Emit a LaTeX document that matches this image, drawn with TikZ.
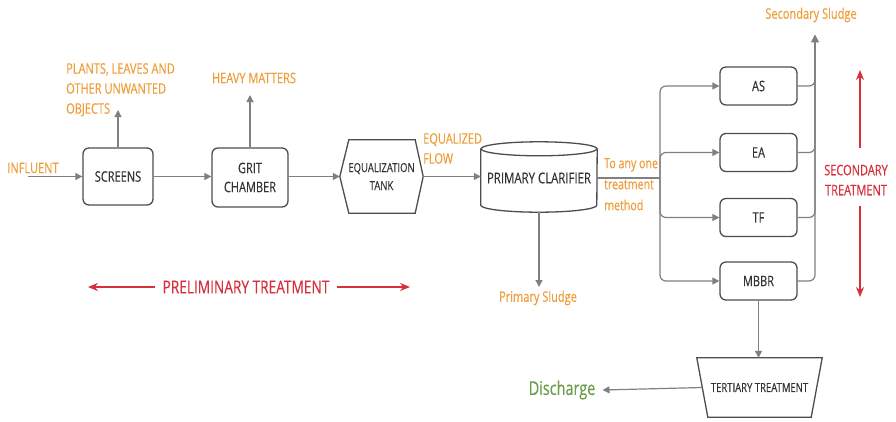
\documentclass[tikz,border=0pt]{standalone}
\usepackage{fontspec}
\setmainfont{Open Sans}[FakeStretch=0.76,FakeBold=0.25]
\usetikzlibrary{arrows.meta,calc}
\definecolor{lbl}{HTML}{EE9E3A}
\definecolor{warn}{HTML}{D6303C}
\definecolor{outgreen}{HTML}{6B9E4B}
\definecolor{pipegray}{HTML}{808080}
\definecolor{boxgray}{HTML}{4D4D4D}
\definecolor{txt}{HTML}{333333}
\begin{document}
\begin{tikzpicture}[x=1pt,y=-1pt,
  box/.style={draw=boxgray,line width=1.3pt,rounded corners=6pt,align=center,text=txt,
    font=\fontsize{14.5}{19}\selectfont,inner sep=0pt},
  shapebox/.style={inner sep=0pt,align=center,text=txt},
  boxline/.style={draw=boxgray,line width=1.3pt},
  pipe/.style={draw=pipegray,line width=1.2pt},
  flow/.style={pipe,-{Triangle[length=7pt,width=7pt]}},
  note/.style={text=lbl,font=\fontsize{14.5}{20}\selectfont,align=left,inner sep=0pt},
  redarrow/.style={draw=warn,line width=1.4pt,-{Stealth[length=10pt,width=8pt]}},
]
\useasboundingbox[fill=white] (0,0) rectangle (896,421);

% ---- preliminary treatment line ----
\node[box,minimum width=70pt,minimum height=57pt] (screens) at (118,176.5) {SCREENS};
\node[box,minimum width=76pt,minimum height=59pt] (grit) at (250,177.5) {GRIT\\CHAMBER};
\node[shapebox,minimum width=83pt,minimum height=73pt,font=\fontsize{12.5}{18}\selectfont] (eq) at (381.5,176.5) {EQUALIZATION\\TANK};
\draw[boxline] ($(eq.north west)+(9,0)$) -- ($(eq.north east)+(-8,0)$) -- (eq.east)
  -- ($(eq.south east)+(-8,0)$) -- ($(eq.south west)+(9,0)$) -- (eq.west) -- cycle;

% primary clarifier drawn as a cylinder
\node[shapebox,minimum width=116pt,minimum height=68pt,font=\fontsize{15}{16}\selectfont] (clar) at (539,178) {\raisebox{-3pt}{PRIMARY CLARIFIER}};
\draw[boxline] ($(clar.north)+(0,5)$) ellipse [x radius=58, y radius=7];
\draw[boxline] ($(clar.north west)+(0,5)$) -- ($(clar.south west)+(0,-7)$)
  arc[start angle=180,end angle=0,x radius=58,y radius=7] -- ($(clar.north east)+(0,5)$);

% ---- secondary treatment options ----
\node[box,minimum width=77pt,minimum height=38pt] (as) at (758.5,86) {AS};
\node[box,minimum width=77pt,minimum height=38pt] (ea) at (758.5,152.5) {EA};
\node[box,minimum width=77pt,minimum height=38pt] (tf) at (758.5,217.5) {TF};
\node[box,minimum width=77pt,minimum height=38pt] (mbbr) at (758.5,281) {MBBR};

% tertiary treatment trapezium
\node[shapebox,minimum width=125pt,minimum height=59pt,font=\fontsize{12.5}{14}\selectfont] (tert) at (759.5,387.5) {TERTIARY TREATMENT};
\draw[boxline] (tert.north west) -- (tert.north east) -- ($(tert.south east)+(-11,0)$)
  -- ($(tert.south west)+(11,0)$) -- cycle;

% ---- labels ----
\node[note] (influent) at (33,168) {INFLUENT};
\node[note,anchor=north west] (plants) at (66,63) {PLANTS, LEAVES AND\\OTHER UNWANTED\\OBJECTS};
\node[note] (heavy) at (254,78) {HEAVY MATTERS};
\node[note,anchor=north west] (eqflow) at (423,133) {EQUALIZED\\FLOW};
\node[note] (psludge) at (538,298) {Primary Sludge};
\node[note,anchor=north west,font=\fontsize{14}{21}\selectfont] (anyone) at (604,158) {To any one\\treatment\\method};
\node[note] (ssludge) at (811,15) {Secondary Sludge};
\node[text=outgreen,font=\fontsize{19}{20}\selectfont,inner xsep=7pt] (discharge) at (562,390) {Discharge};
\node[text=warn,font=\fontsize{18}{20}\selectfont,inner xsep=7pt] (prelim) at (246,287) {PRELIMINARY TREATMENT};
\node[text=warn,font=\fontsize{14.5}{20}\selectfont,align=center,inner sep=0pt] (sectreat) at (856,180) {SECONDARY\\TREATMENT};

% ---- connectors ----
\coordinate (inlet) at (28,176.5);
\coordinate (screenout) at (118,110);
\coordinate (gritout) at (250,95);
\coordinate (psout) at (539,287);
\coordinate (split) at (660,178);
\coordinate (sludge) at (815,35);

\draw[flow] (inlet) -- (screens.west);
\draw[flow] (screens.north) -- (screenout);
\draw[flow] (screens.east) -- (screens.east -| grit.west);
\draw[flow] (grit.north) -- (gritout);
\draw[flow] (grit.east |- eq.west) -- (eq.west);
\draw[flow] (eq.east) -- (eq.east -| clar.west);
\draw[flow] (clar.south) -- (psout);
\draw[pipe] (clar.east) -- (split);
\foreach \b in {as,ea,tf,mbbr}{
  \draw[flow,rounded corners=6pt] (split) |- (\b.west);
  \draw[flow,rounded corners=6pt] (\b.east) -| (sludge);
}
\draw[flow] (mbbr.south) -- (mbbr.south |- tert.north);
\draw[flow] ($(tert.west)+(5.5,0)$) -- (discharge.east);

% treatment stage extents
\coordinate (pl) at (88,287);
\coordinate (pr) at (410,287);
\draw[redarrow] (prelim.west) -- (pl);
\draw[redarrow] (prelim.east) -- (pr);
\coordinate (st1) at (860,148);
\coordinate (st2) at (860,70);
\coordinate (st3) at (860,206);
\coordinate (st4) at (860,297);
\draw[redarrow] (st1) -- (st2);
\draw[redarrow] (st3) -- (st4);
\end{tikzpicture}
\end{document}
